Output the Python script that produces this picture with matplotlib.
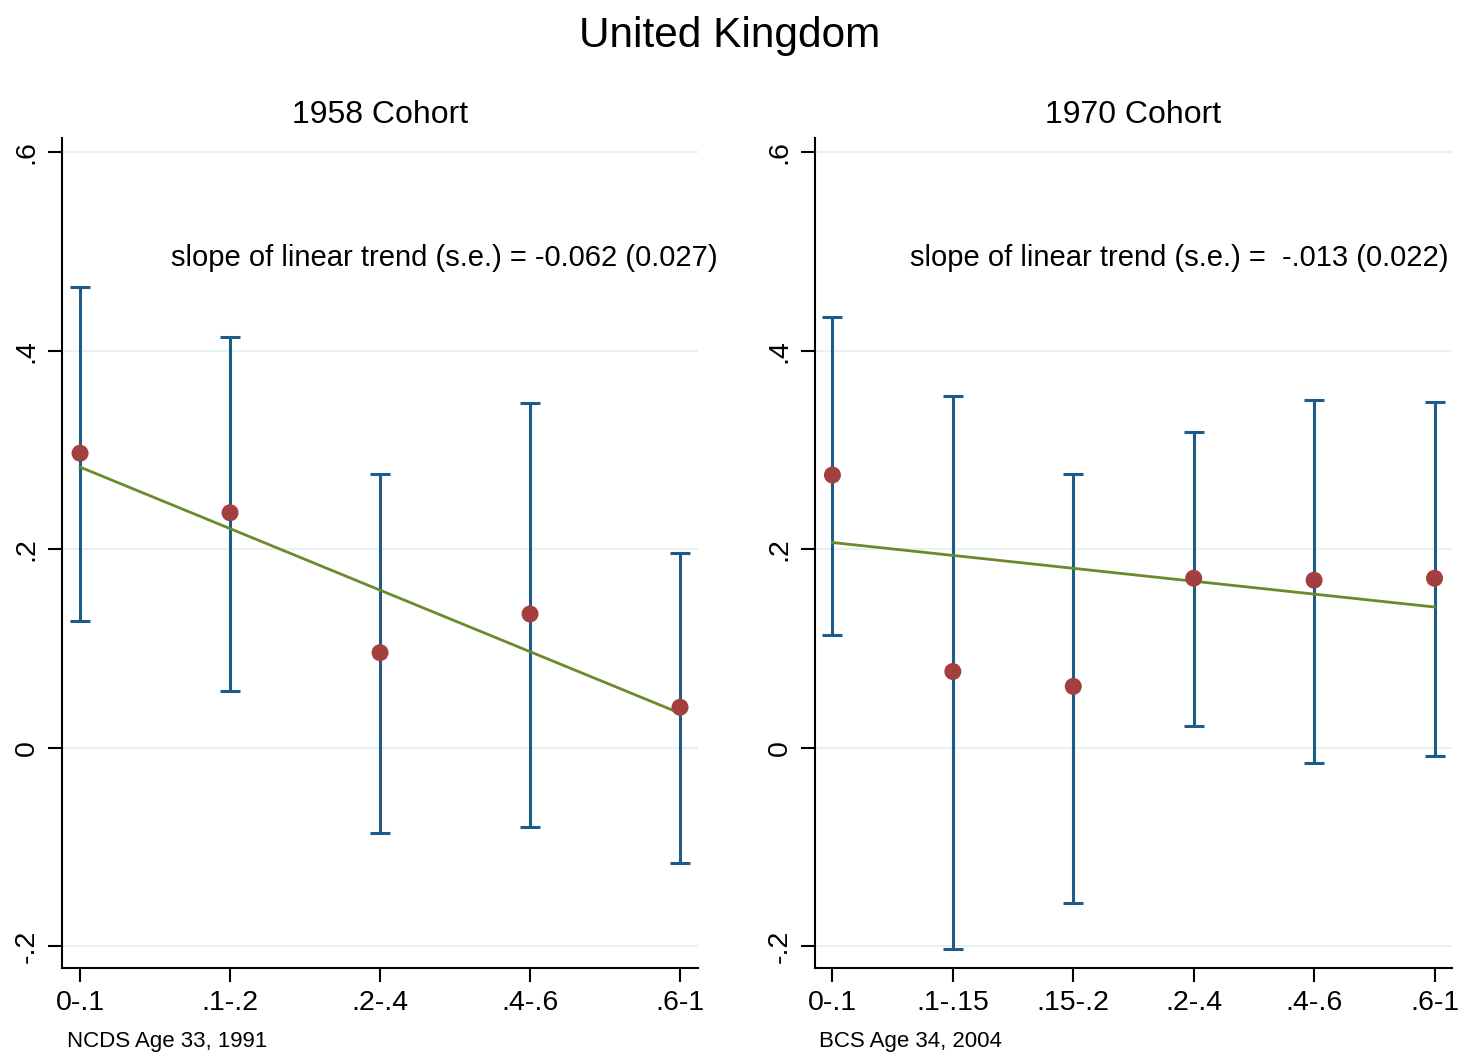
import matplotlib
matplotlib.use("Agg")
import matplotlib.pyplot as plt
import numpy as np

plt.rcParams['font.family'] = ['Liberation Sans', 'DejaVu Sans']

# ---- data ----
cats_1958 = ["0-.1", ".1-.2", ".2-.4", ".4-.6", ".6-1"]
est_1958 = [0.297, 0.237, 0.096, 0.135, 0.041]
lo_1958 = [0.128, 0.057, -0.086, -0.080, -0.116]
hi_1958 = [0.464, 0.414, 0.276, 0.348, 0.196]
trend_int_1958 = 0.283
trend_slope_1958 = -0.062

cats_1970 = ["0-.1", ".1-.15", ".15-.2", ".2-.4", ".4-.6", ".6-1"]
est_1970 = [0.275, 0.077, 0.062, 0.171, 0.169, 0.171]
lo_1970 = [0.114, -0.203, -0.156, 0.022, -0.015, -0.008]
hi_1970 = [0.434, 0.355, 0.276, 0.318, 0.351, 0.349]
trend_int_1970 = 0.207
trend_slope_1970 = -0.013

yticks = [-0.2, 0, 0.2, 0.4, 0.6]
ytick_labels = ["-.2", "0", ".2", ".4", ".6"]

BLUE = "#1f5b88"
RED = "#a3403f"
GREEN = "#6b8a2e"
GRID = "#e9f1f2"

fig = plt.figure(figsize=(14.6, 10.55), dpi=100)

def panel(rect, cats, est, lo, hi, b0, b1, title, note, note_x, source, pad):
    ax = fig.add_axes(rect)
    x = np.arange(len(cats))
    est = np.array(est); lo = np.array(lo); hi = np.array(hi)
    ax.set_ylim(-0.2217, 0.6146)
    ax.set_xlim(-pad, len(cats) - 1 + pad)
    for yv in yticks:
        ax.axhline(yv, color=GRID, lw=1.5, zorder=0)
    ax.errorbar(x, est, yerr=[est - lo, hi - est], fmt='none', ecolor=BLUE,
                elinewidth=2.2, capsize=7, capthick=2.2, zorder=2)
    xl = np.array([x[0], x[-1]])
    ax.plot(xl, b0 + b1 * xl, color=GREEN, lw=2, zorder=3)
    ax.scatter(x, est, s=150, color=RED, zorder=4, edgecolors='none')
    ax.set_xticks(x)
    ax.set_xticklabels(cats, fontsize=20.5)
    ax.set_yticks(yticks)
    ax.set_yticklabels(ytick_labels, fontsize=20.5, rotation=90, va='center')
    for s in ['top', 'right']:
        ax.spines[s].set_visible(False)
    for s in ['left', 'bottom']:
        ax.spines[s].set_linewidth(1.5)
    ax.tick_params(axis='both', length=10, width=1.5, pad=6)
    ax.set_title(title, fontsize=23, pad=11)
    ax.text(note_x, 0.494, note, transform=ax.get_yaxis_transform(), ha='right',
            va='center', fontsize=21)
    ax.text(0.007, -0.089, source, transform=ax.transAxes, ha='left', va='center',
            fontsize=16)
    return ax

panel([0.0425, 0.0825, 0.4356, 0.7867], cats_1958, est_1958, lo_1958, hi_1958,
      trend_int_1958, trend_slope_1958, "1958 Cohort",
      "slope of linear trend (s.e.) = -0.062 (0.027)", 1.031, "NCDS Age 33, 1991", 0.12)
panel([0.5582, 0.0825, 0.4363, 0.7867], cats_1970, est_1970, lo_1970, hi_1970,
      trend_int_1970, trend_slope_1970, "1970 Cohort",
      "slope of linear trend (s.e.) =  -.013 (0.022)", 0.994, "BCS Age 34, 2004", 0.145)

fig.text(0.5, 0.966, "United Kingdom", fontsize=30.5, ha='center', va='center')
fig.savefig("out.png", dpi=100)
